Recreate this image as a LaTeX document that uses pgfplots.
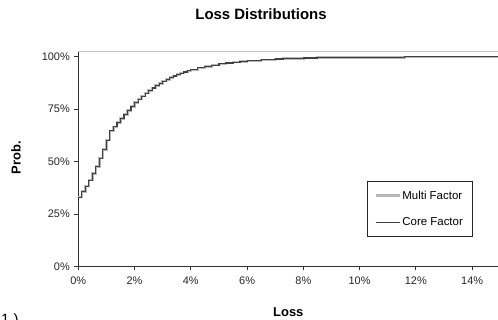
\documentclass[border=0pt]{standalone}
\usepackage{pgfplots}
\pgfplotsset{compat=1.18}
\usepackage{pgfplotstable}
\usepackage{fontspec}
\setmainfont{Liberation Sans}
\definecolor{coreC}{HTML}{404040}
\definecolor{multiC}{HTML}{B8B8B8}
\definecolor{axC}{HTML}{333333}
\pgfplotstableread{
x y
0 33.0
0.125 35.6
0.25 38.2
0.375 41.1
0.5 44.2
0.625 47.6
0.75 51.6
0.875 55.8
1.0 60.2
1.125 64.6
1.25 66.6
1.375 68.6
1.5 70.6
1.625 72.5
1.75 74.4
1.875 76.3
2.0 78.1
2.125 79.7
2.25 81.2
2.375 82.6
2.5 83.9
2.625 85.1
2.75 86.2
2.875 87.3
3.0 88.3
3.125 89.2
3.25 90.0
3.375 90.8
3.5 91.5
3.625 92.1
3.75 92.7
3.875 93.3
4.0 93.8
4.25 94.7
4.5 95.4
4.75 96.0
5.0 96.6
5.25 97.0
5.5 97.4
5.75 97.7
6.0 98.0
6.5 98.5
7.0 98.9
7.3 99.2
8.0 99.4
8.5 99.6
10.0 99.7
11.6 100
14.92 100
}\coredata
\begin{document}
\begin{tikzpicture}
\path[use as bounding box] (0,0) rectangle (498bp,320bp);
\begin{axis}[
  at={(78.3bp,53.7bp)}, anchor=south west,
  scale only axis, width=419.7bp, height=214.6bp,
  xmin=0, xmax=14.92, ymin=0, ymax=102.4,
  axis x line*=bottom, axis y line*=left,
  axis line style={axC, line width=0.8bp, -},
  xtick={0,2,4,6,8,10,12,14},
  xticklabels={0\%,2\%,4\%,6\%,8\%,10\%,12\%,14\%},
  ytick={0,25,50,75,100},
  yticklabels={0\%,25\%,50\%,75\%,100\%},
  tick align=outside, major tick length=4bp,
  tick style={axC, line width=0.8bp},
  ticklabel style={font=\fontsize{11}{13}\selectfont, text=black!85},
  xticklabel style={yshift=-3bp},
  yticklabel style={xshift=-1bp},
  clip=false,
  legend style={at={(0.687,0.137)}, anchor=south west, draw=black!85, line width=0.7bp,
    fill=white, font=\fontsize{11.5}{13}\selectfont, inner xsep=7.5bp, inner ysep=8bp,
    row sep=14bp, nodes={inner sep=1.5bp}},
  legend cell align=left,
]
\draw[multiC!80, line width=1.5bp] (rel axis cs:0,1) -- (rel axis cs:1,1);
\addplot[const plot, multiC, line width=2.4bp,
  legend image code/.code={\draw[multiC, line width=2.4bp] (0bp,0bp) -- (24bp,0bp);}]
  table[x=x,y=y] {\coredata};
\addlegendentry{Multi Factor}
\addplot[const plot, coreC, line width=1.1bp,
  legend image code/.code={\draw[coreC, line width=1.1bp] (0bp,0bp) -- (24bp,0bp);}]
  table[x=x,y=y] {\coredata};
\addlegendentry{Core Factor}
\end{axis}
\node[anchor=base, font=\fontsize{15}{17}\selectfont\bfseries] at (261bp,300bp) {Loss Distributions};
\node[anchor=base, rotate=90, font=\fontsize{13}{15}\selectfont\bfseries] at (20.5bp,162.5bp) {Prob.};
\node[anchor=base, font=\fontsize{13}{15}\selectfont\bfseries] at (288.3bp,3.5bp) {Loss};
\node[anchor=base west, inner sep=0pt, font=\fontsize{15}{17}\selectfont] at (1bp,-4bp) {1.)};
\end{tikzpicture}
\end{document}
